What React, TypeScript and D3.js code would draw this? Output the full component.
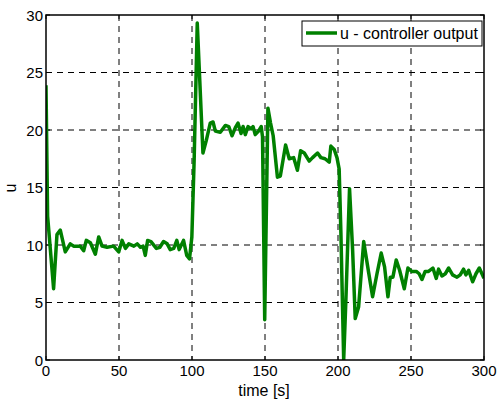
import React from "react";
import * as d3 from "d3";

const timeValues = [0, 1.1, 5.2, 7.5, 9.8, 13.2, 16.6, 18.9, 23.5, 25.8, 27.6, 30.4, 33.8, 36.1, 38.4, 41.8, 46.3, 49.8, 52.1, 54.4, 56.7, 60.2, 62.5, 64.7, 66.5, 68.0, 69.6, 71.9, 75.6, 78, 80.5, 83, 85.1, 87.5, 89.6, 91.2, 94.2, 96.4, 98.3, 99.9, 101.5, 103.6, 107.5, 109.8, 112.5, 114.4, 116.0, 119.4, 122.9, 125.2, 127.4, 129.7, 131.5, 133.6, 135.0, 136.5, 138.4, 140.5, 141.8, 143.3, 145.6, 147.4, 148.3, 149.8, 152.0, 153.8, 155.6, 158.5, 160.5, 164.1, 166.6, 169.6, 172.2, 174.4, 176.9, 180.3, 182.6, 186.0, 188.3, 191.1, 194.0, 195.1, 197.4, 199.3, 200.8, 202.0, 203.9, 205.4, 207.9, 210.0, 211.8, 214.1, 217.6, 221.0, 223.7, 226.7, 229.6, 231.9, 234.2, 235.8, 237.6, 239.9, 242.2, 245.4, 247.9, 250.6, 253.6, 255.6, 257.5, 259.7, 262.0, 265.0, 267.3, 268.9, 271.2, 273.5, 275.8, 278.5, 281.5, 283.7, 286.0, 287.6, 289.5, 292.2, 294.5, 296.8, 300];
const uValues = [23.9, 12.5, 6.2, 10.9, 11.3, 9.4, 10.1, 9.9, 9.9, 9.5, 10.4, 10.2, 9.2, 10.7, 9.9, 9.8, 9.9, 9.4, 10.4, 9.7, 10.1, 9.9, 10.1, 9.8, 9.9, 9.1, 10.4, 10.3, 9.7, 9.8, 10.3, 10.1, 9.6, 9.7, 10.4, 9.6, 10.4, 9.1, 8.8, 10.7, 17.5, 29.3, 18.0, 19.1, 20.6, 20.7, 19.9, 19.8, 20.4, 20.3, 19.5, 20.2, 20.6, 19.7, 20.3, 19.6, 20.3, 20.1, 20.3, 19.6, 19.9, 20.3, 19.4, 3.5, 21.9, 20.6, 19.5, 15.9, 16.0, 18.7, 17.5, 17.6, 16.5, 18.2, 18.0, 17.3, 17.6, 18.0, 17.6, 17.5, 17.2, 18.6, 18.3, 17.6, 16.6, 11.0, 0, 5.2, 14.9, 9.6, 3.6, 4.6, 10.3, 7.6, 5.5, 7.5, 9.3, 8.1, 5.5, 7.2, 7.2, 8.7, 7.8, 6.2, 8.0, 7.7, 7.7, 7.5, 7.0, 7.7, 7.7, 8.0, 7.1, 7.9, 7.3, 7.5, 8.0, 7.4, 7.2, 7.4, 7.9, 7.4, 7.8, 6.8, 7.5, 8.0, 7.1];
const xTicks = [0, 50, 100, 150, 200, 250, 300];
const yTicks = [0, 5, 10, 15, 20, 25, 30];
const xLabel = "time [s]";
const yLabel = "u";
const legendLabel = "u - controller output";

export default function App() {
  const W = 499, H = 401;
  const left = 46, right = 484, top = 15, bottom = 360;
  const x = d3.scaleLinear().domain([0, 300]).range([left, right]);
  const y = d3.scaleLinear().domain([0, 30]).range([bottom, top]);
  const line = d3.line<number>().x((_, i) => x(timeValues[i])).y((d) => y(d));
  const font = "Liberation Sans, Arial, sans-serif";
  return (
    <svg width={W} height={H} style={{ position: "absolute", left: 0, top: 0, background: "#fff" }}>
      <rect x={0} y={0} width={W} height={H} fill="#fff" />
      <defs>
        <clipPath id="plot">
          <rect x={left} y={top} width={right - left} height={bottom - top} />
        </clipPath>
      </defs>
      {xTicks.slice(1, -1).map((t) => (
        <line key={"gx" + t} x1={x(t)} x2={x(t)} y1={top} y2={bottom} stroke="#000" strokeWidth={1} strokeDasharray="6,5" />
      ))}
      {yTicks.slice(1, -1).map((t) => (
        <line key={"gy" + t} x1={left} x2={right} y1={y(t)} y2={y(t)} stroke="#000" strokeWidth={1} strokeDasharray="6,5" />
      ))}
      {xTicks.map((t) => (
        <g key={"tx" + t}>
          <line x1={x(t)} x2={x(t)} y1={bottom} y2={bottom - 4} stroke="#000" />
          <line x1={x(t)} x2={x(t)} y1={top} y2={top + 4} stroke="#000" />
          <text x={x(t)} y={376} textAnchor="middle" fontFamily={font} fontSize={15} fill="#000">{t}</text>
        </g>
      ))}
      {yTicks.map((t) => (
        <g key={"ty" + t}>
          <line x1={left} x2={left + 4} y1={y(t)} y2={y(t)} stroke="#000" />
          <line x1={right} x2={right - 4} y1={y(t)} y2={y(t)} stroke="#000" />
          <text x={43} y={y(t) + 5.5} textAnchor="end" fontFamily={font} fontSize={15} fill="#000">{t}</text>
        </g>
      ))}
      <path d={line(uValues) || ""} fill="none" stroke="#008000" strokeWidth={3.5} strokeLinejoin="round" clipPath="url(#plot)" />
      <rect x={left} y={top} width={right - left} height={bottom - top} fill="none" stroke="#000" strokeWidth={1.5} />
      <rect x={302} y={21} width={180} height={25} fill="#fff" stroke="#000" strokeWidth={1} />
      <line x1={306} x2={337} y1={33} y2={33} stroke="#008000" strokeWidth={3.5} />
      <text x={340} y={39} fontFamily={font} fontSize={16} fill="#000">{legendLabel}</text>
      <text x={264} y={396} textAnchor="middle" fontFamily={font} fontSize={16} fill="#000">{xLabel}</text>
      <text transform="translate(16,188) rotate(-90)" textAnchor="middle" fontFamily={font} fontSize={16} fill="#000">{yLabel}</text>
    </svg>
  );
}
